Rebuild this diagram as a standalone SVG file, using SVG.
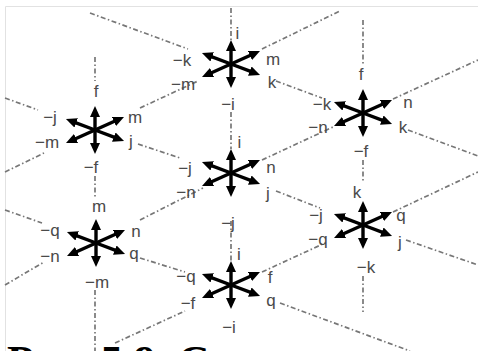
<svg xmlns="http://www.w3.org/2000/svg" width="478" height="351" viewBox="0 0 478 351">
<style>
.ln{fill:none;stroke:#777;stroke-width:1.7;stroke-dasharray:5,2.5,1.5,2.5}
.ar{stroke:#000;stroke-width:3.4;fill:none;marker-end:url(#ah)}
.lb{font-family:"Liberation Sans",Arial,sans-serif;font-size:17px;fill:#4a4a4a;text-anchor:middle}
.cap{font-family:"Liberation Serif","Times New Roman",serif;font-size:44px;font-weight:bold;fill:#000}
.fr{stroke:#e2e2e2;stroke-width:1;fill:none}
</style>
<defs>
<marker id="ah" markerWidth="11" markerHeight="10" refX="3" refY="5" orient="auto" markerUnits="userSpaceOnUse">
<path d="M0,0 L11,5 L0,10 z" fill="#000"/>
</marker>
<g id="star">
<line class="ar" x1="0" y1="0" x2="0" y2="-16"/>
<line class="ar" x1="0" y1="0" x2="0" y2="16"/>
<line class="ar" x1="0" y1="0" x2="21.7" y2="-9.7"/>
<line class="ar" x1="0" y1="0" x2="21.6" y2="8.2"/>
<line class="ar" x1="0" y1="0" x2="-21.6" y2="-8.2"/>
<line class="ar" x1="0" y1="0" x2="-21.7" y2="9.7"/>
</g>
</defs>
<rect width="478" height="351" fill="#fff"/>
<path class="fr" d="M5.5,351 V6.5 H478"/>
<g id="connectors">
<path class="ln" d="M90,13 L188,49 M276,81 L322,98 M408,130 L478,156"/>
<path class="ln" d="M5,98 L38,110 M138,144 L180,158 M276,191 L320,208 M406,240 L478,265"/>
<path class="ln" d="M5,210 L42,223 M140,258 L185,272 M280,303 L410,351"/>
<path class="ln" d="M5,172 L44,153 M140,108 L198,81 M262,49 L340,11"/>
<path class="ln" d="M5,285 L44,262 M140,220 L203,188 M262,160 L333,127 M393,99 L478,60"/>
<path class="ln" d="M115,343 L185,311 M262,272 L325,243 M393,212 L478,172"/>
<path class="ln" d="M231,8 V40 M231,112 V149 M231,221 V261"/>
<path class="ln" d="M95,57 V81 M95,176 V198 M95,290 V351"/>
<path class="ln" d="M363,20 V65 M363,160 V181 M363,276 V312"/>
</g>
<g id="n1">
<use href="#star" x="231" y="64"/>
<text class="lb" x="237.5" y="39">i</text>
<text class="lb" x="182" y="66">−k</text>
<text class="lb" x="273" y="65">m</text>
<text class="lb" x="183" y="90">−m</text>
<text class="lb" x="272" y="88">k</text>
<text class="lb" x="228" y="110">−i</text>
</g>
<g id="n2">
<use href="#star" x="95" y="130"/>
<text class="lb" x="96" y="97">f</text>
<text class="lb" x="50" y="123">−j</text>
<text class="lb" x="135" y="123">m</text>
<text class="lb" x="47" y="148">−m</text>
<text class="lb" x="131" y="147">j</text>
<text class="lb" x="91" y="173">−f</text>
</g>
<g id="n3">
<use href="#star" x="363" y="113"/>
<text class="lb" x="361" y="80">f</text>
<text class="lb" x="322" y="110">−k</text>
<text class="lb" x="408" y="108">n</text>
<text class="lb" x="318" y="133">−n</text>
<text class="lb" x="403" y="133">k</text>
<text class="lb" x="361" y="157">−f</text>
</g>
<g id="n4">
<use href="#star" x="231" y="173"/>
<text class="lb" x="239.5" y="148">i</text>
<text class="lb" x="185" y="174">−j</text>
<text class="lb" x="271" y="173">n</text>
<text class="lb" x="186" y="198">−n</text>
<text class="lb" x="268" y="199">j</text>
<text class="lb" x="228" y="229">−j</text>
</g>
<g id="n5">
<use href="#star" x="96" y="243"/>
<text class="lb" x="99" y="212">m</text>
<text class="lb" x="50" y="236">−q</text>
<text class="lb" x="136" y="237">n</text>
<text class="lb" x="50" y="262">−n</text>
<text class="lb" x="134" y="259">q</text>
<text class="lb" x="97" y="288">−m</text>
</g>
<g id="n6">
<use href="#star" x="363" y="225"/>
<text class="lb" x="357" y="198">k</text>
<text class="lb" x="316" y="221">−j</text>
<text class="lb" x="401" y="221">q</text>
<text class="lb" x="318" y="245">−q</text>
<text class="lb" x="400" y="248">j</text>
<text class="lb" x="366" y="273">−k</text>
</g>
<g id="n7">
<use href="#star" x="231" y="285"/>
<text class="lb" x="239" y="260">i</text>
<text class="lb" x="186" y="282">−q</text>
<text class="lb" x="270" y="283">f</text>
<text class="lb" x="188" y="309">−f</text>
<text class="lb" x="271" y="306">q</text>
<text class="lb" x="229" y="333">−i</text>
</g>
<text class="cap" x="7" y="376">Рис. 5.9. С</text>
</svg>
